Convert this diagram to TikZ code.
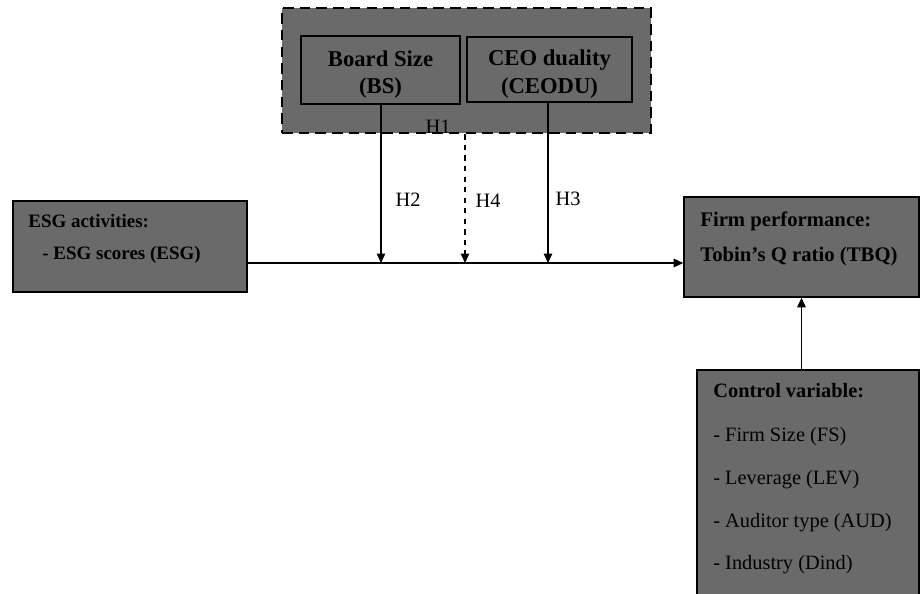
\documentclass[tikz,border=0pt]{standalone}
\usepackage{fontspec}
\setmainfont{Liberation Serif}
\usetikzlibrary{arrows.meta}
\definecolor{boxgray}{RGB}{106,106,106}
\tikzset{
  varbox/.style={draw=black, fill=boxgray, line width=0.9pt, inner sep=0pt},
  txt/.style={anchor=base west, inner sep=0pt, font=\fontsize{11.6}{14}\selectfont},
  hlab/.style={inner sep=0pt, font=\fontsize{11.6}{14}\selectfont},
  link/.style={line width=0.8pt, -{Triangle[length=0.19cm,width=0.17cm]}}
}
\begin{document}
\begin{tikzpicture}[x=0.02cm, y=-0.02cm]
      \useasboundingbox (0,0) rectangle (920,593);

      % moderators
      \node[varbox, dashed, line width=1.6pt, dash pattern=on 6pt off 3.5pt,
            minimum width=7.38cm, minimum height=2.5cm] (GRP) at (466.5,70.5) {};
      \node[varbox, line width=1.6pt, minimum width=3.18cm, minimum height=1.36cm,
            align=center, font=\fontsize{12.9}{15.8}\selectfont\bfseries] (BS) at (380.5,70)
            {\rule{0pt}{14pt}Board Size\\(BS)};
      \node[varbox, minimum width=3.3cm, minimum height=1.3cm,
            align=center, font=\fontsize{12.9}{15.8}\selectfont\bfseries] (CEO) at (549.5,69.5)
            {\rule{0pt}{14pt}CEO duality\\(CEODU)};
      \node[hlab] (H1) at (438,127) {H1};

      % main variables
      \node[varbox, minimum width=4.68cm, minimum height=1.82cm] (ESG) at (130,246.5) {};
      \node[txt, font=\fontsize{10.8}{14}\selectfont\bfseries] (ESGa) at (28,227) {ESG activities:};
      \node[txt, font=\fontsize{10.8}{14}\selectfont\bfseries] (ESGb) at (42,259) {- ESG scores (ESG)};

      \node[varbox, minimum width=4.7cm, minimum height=2cm] (TBQ) at (801.5,247) {};
      \node[txt, font=\fontsize{11.8}{14}\selectfont\bfseries] (TBQa) at (700,226) {Firm performance:};
      \node[txt, font=\fontsize{11.8}{14}\selectfont\bfseries] (TBQb) at (700,261) {Tobin’s Q ratio (TBQ)};

      \node[varbox, minimum width=4.44cm, minimum height=4.6cm] (CTRL) at (808,485) {};
      \node[txt, font=\fontsize{11.6}{14}\selectfont\bfseries] (CTRLa) at (713,397) {Control variable:};
      \node[txt] (CTRLb) at (713,441) {- Firm Size (FS)};
      \node[txt] (CTRLc) at (713,484) {- Leverage (LEV)};
      \node[txt] (CTRLd) at (713,527) {- Auditor type (AUD)};
      \node[txt] (CTRLe) at (713,569) {- Industry (Dind)};

      % points on the main path
      \coordinate (m2) at (381,263);
      \coordinate (m4) at (465,263);
      \coordinate (m3) at (548,263);

      \draw[link] (ESG.east |- m2) -- (TBQ.west |- m2);
      \draw[link] (BS.south -| m2) -- node[hlab, pos=0.6, right=0.28cm] (H2) {H2} (m2);
      \draw[link, dashed] (GRP.south -| m4) -- node[hlab, pos=0.52, right=0.2cm] (H4) {H4} (m4);
      \draw[link] (CEO.south -| m3) -- node[hlab, pos=0.6, right=0.14cm] (H3) {H3} (m3);
      \draw[link] (TBQ.south |- CTRL.north) -- (TBQ.south);
    \end{tikzpicture}
\end{document}
